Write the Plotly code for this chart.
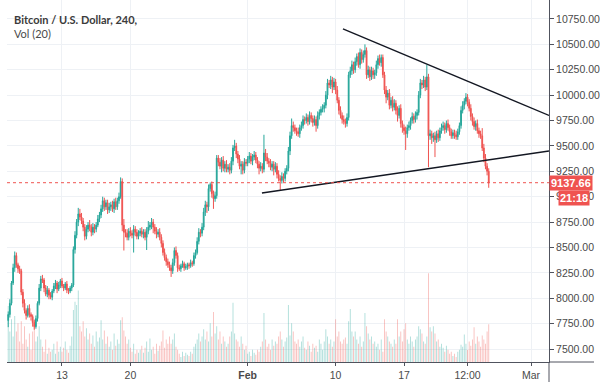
import pandas as pd
import plotly.graph_objects as go

# ---------------- data (4h candles, BTC/USD) ----------------
first_open = 7780
closes = [
    7840, 7950, 8150,                                   # Jan 7 (12:00-20:00)
    8300, 8420, 8330, 8290, 8270, 8060,                 # Jan 8
    7950, 7880, 7830, 7900, 7840, 7820,                 # Jan 9
    7760, 7720, 7800, 7950, 8100, 8190,                 # Jan 10
    8180, 8100, 8040, 8080, 8030, 8010,                 # Jan 11
    8070, 8120, 8150, 8090, 8130, 8170,                 # Jan 12
    8120, 8100, 8140, 8080, 8070, 8100,                 # Jan 13
    8130, 8480, 8620, 8750, 8830, 8800,                 # Jan 14
    8760, 8700, 8610, 8680, 8720, 8700,                 # Jan 15
    8650, 8700, 8680, 8720, 8780, 8820,                 # Jan 16
    8880, 8960, 8900, 8940, 8870, 8900,                 # Jan 17
    8920, 8880, 8950, 8900, 8960, 9000,                 # Jan 18
    9150, 8720, 8650, 8640, 8600, 8660,                 # Jan 19
    8640, 8620, 8680, 8650, 8610, 8640,                 # Jan 20
    8660, 8630, 8650, 8600, 8660, 8700,                 # Jan 21
    8720, 8750, 8700, 8660, 8630, 8650,                 # Jan 22
    8600, 8540, 8450, 8400, 8360, 8330,                 # Jan 23
    8300, 8270, 8350, 8470, 8420, 8300,                 # Jan 24
    8290, 8320, 8340, 8300, 8310, 8330,                 # Jan 25
    8320, 8350, 8340, 8420, 8450, 8560,                 # Jan 26
    8650, 8640, 8700, 8850, 8920, 8900,                 # Jan 27
    9080, 9120, 9030, 8980, 9010, 9380,                 # Jan 28
    9340, 9300, 9360, 9280, 9320, 9270,                 # Jan 29
    9290, 9260, 9350, 9480, 9500, 9420,                 # Jan 30
    9370, 9300, 9320, 9260, 9340, 9330,                 # Jan 31
    9370, 9400, 9350, 9390, 9410, 9360,                 # Feb 1
    9320, 9280, 9300, 9270, 9430, 9390,                 # Feb 2
    9350, 9330, 9290, 9320, 9270, 9300,                 # Feb 3
    9220, 9180, 9160, 9200, 9180, 9250,                 # Feb 4
    9280, 9450, 9600, 9700, 9680, 9650,                 # Feb 5
    9640, 9620, 9680, 9700, 9760, 9750,                 # Feb 6
    9780, 9740, 9800, 9770, 9730, 9760,                 # Feb 7
    9700, 9800, 9830, 9860, 9870, 9900,                 # Feb 8
    10000, 10120, 10100, 10150, 10080, 10130,           # Feb 9
    10050, 9950, 9850, 9800, 9760, 9740,                # Feb 10
    9720, 9780, 10200, 10240, 10300, 10250,             # Feb 11
    10330, 10380, 10300, 10420, 10350, 10400,           # Feb 12
    10440, 10200, 10250, 10180, 10240, 10200,           # Feb 13
    10220, 10300, 10360, 10320, 10370, 10200,           # Feb 14
    10050, 9980, 10020, 9900, 9950, 9880,               # Feb 15
    9920, 9850, 9800, 9870, 9720, 9680,                 # Feb 16
    9650, 9620, 9680, 9700, 9750, 9790,                 # Feb 17
    9760, 9800, 9830, 10000, 10120, 10100,              # Feb 18
    10150, 10080, 10180, 9600, 9620, 9580,              # Feb 19
    9600, 9560, 9620, 9580, 9650, 9680,                 # Feb 20
    9700, 9660, 9720, 9680, 9640, 9600,                 # Feb 21
    9630, 9610, 9590, 9640, 9700, 9850,                 # Feb 22
    9900, 9940, 9980, 9930, 9870, 9790,                 # Feb 23
    9740, 9690, 9720, 9650, 9620, 9600,                 # Feb 24
    9480, 9380, 9300, 9250, 9137.66,                    # Feb 25
]
upper_wicks = [
    30, 40, 20,
    40, 40, 30, 20, 30, 20,
    30, 40, 20, 30, 40, 20,
    20, 30, 30, 20, 40, 30,
    40, 20, 30, 40, 20, 30,
    20, 30, 30, 20, 30, 20,
    30, 20, 20, 30, 20, 20,
    20, 30, 40, 30, 60, 50,
    40, 30, 30, 40, 30, 50,
    30, 40, 30, 30, 40, 30,
    40, 40, 30, 30, 30, 40,
    30, 40, 30, 40, 30, 40,
    40, 30, 60, 30, 40, 30,
    40, 30, 40, 30, 30, 30,
    30, 40, 30, 30, 40, 60,
    30, 40, 30, 30, 40, 30,
    40, 30, 30, 40, 30, 30,
    30, 30, 40, 30, 40, 30,
    30, 20, 30, 20, 30, 20,
    20, 30, 20, 30, 30, 40,
    40, 30, 40, 40, 40, 30,
    40, 20, 30, 30, 40, 30,
    30, 40, 30, 40, 30, 40,
    30, 40, 40, 30, 60, 30,
    30, 40, 30, 30, 40, 30,
    30, 40, 30, 30, 40, 30,
    30, 30, 40, 30, 180, 40,
    40, 30, 40, 30, 30, 40,
    30, 40, 30, 40, 30, 30,
    30, 40, 40, 70, 40, 30,
    30, 40, 30, 40, 40, 30,
    40, 30, 40, 30, 30, 40,
    30, 40, 30, 30, 40, 30,
    40, 40, 30, 40, 30, 40,
    30, 40, 30, 40, 30, 40,
    30, 40, 30, 40, 40, 30,
    40, 30, 40, 40, 30, 40,
    60, 30, 40, 30, 40, 30,
    30, 40, 30, 40, 30, 30,
    30, 40, 30, 40, 30, 40,
    40, 30, 40, 30, 40, 30,
    30, 40, 30, 40, 30, 40,
    30, 40, 30, 40, 40, 30,
    40, 30, 120, 30, 40, 30,
    30, 40, 30, 40, 30, 40,
    40, 30, 30, 40, 30, 30,
    30, 30, 40, 30, 30, 40,
    40, 30, 40, 30, 30, 40,
    30, 40, 30, 40, 30, 30,
    75, 40, 40, 30, 30,
]
lower_wicks = [
    65, 30, 20,
    20, 40, 30, 40, 30, 30,
    40, 30, 40, 20, 30, 40,
    40, 30, 20, 30, 20, 30,
    30, 40, 20, 30, 40, 20,
    30, 20, 30, 40, 20, 30,
    20, 30, 20, 30, 30, 20,
    30, 20, 40, 30, 40, 30,
    30, 40, 40, 30, 30, 40,
    40, 30, 40, 30, 20, 30,
    30, 30, 40, 30, 40, 30,
    40, 30, 40, 30, 30, 30,
    20, 60, 180, 40, 30, 30,
    30, 30, 170, 40, 30, 30,
    30, 30, 40, 30, 125, 30,
    30, 40, 60, 30, 40, 30,
    30, 40, 30, 30, 40, 30,
    30, 60, 30, 30, 30, 40,
    20, 30, 20, 30, 20, 30,
    30, 20, 30, 20, 30, 20,
    30, 40, 30, 30, 40, 60,
    40, 30, 40, 100, 30, 30,
    40, 30, 60, 30, 40, 30,
    30, 40, 30, 40, 30, 40,
    40, 30, 80, 40, 30, 30,
    30, 40, 30, 40, 30, 30,
    40, 60, 30, 40, 30, 40,
    30, 40, 30, 40, 60, 30,
    40, 30, 95, 30, 40, 30,
    30, 30, 40, 30, 40, 30,
    40, 30, 40, 30, 30, 40,
    30, 40, 30, 40, 40, 30,
    60, 30, 40, 30, 30, 40,
    30, 40, 30, 40, 60, 30,
    40, 30, 40, 30, 40, 30,
    40, 30, 30, 30, 40, 40,
    30, 40, 30, 40, 40, 30,
    30, 40, 30, 40, 30, 40,
    40, 30, 40, 30, 40, 30,
    40, 60, 30, 40, 30, 40,
    30, 40, 60, 30, 40, 50,
    40, 160, 40, 30, 40, 30,
    40, 30, 40, 30, 30, 40,
    30, 40, 30, 310, 40, 60,
    40, 170, 30, 40, 30, 30,
    30, 40, 30, 30, 40, 30,
    30, 40, 30, 30, 30, 30,
    30, 40, 30, 40, 30, 40,
    40, 30, 40, 30, 40, 30,
    30, 40, 30, 40, 50,
]
volumes = [
    55, 30, 42,
    25, 45, 30, 38, 20, 40,
    18, 35, 22, 15, 28, 12,
    30, 40, 20, 25, 35, 22,
    15, 10, 22, 8, 14, 10,
    12, 18, 8, 20, 10, 15,
    10, 14, 20, 12, 9, 16,
    25, 51, 59, 56, 70, 35,
    30, 40, 25, 33, 22, 28,
    18, 26, 15, 30, 20, 24,
    41, 22, 31, 18, 25, 15,
    20, 12, 28, 16, 22, 18,
    41, 44, 31, 25, 18, 22,
    14, 10, 18, 8, 12, 9,
    12, 16, 9, 14, 20, 10,
    23, 12, 15, 8, 18, 11,
    16, 20, 31, 14, 22, 18,
    25, 18, 22, 28, 15, 12,
    8, 5, 10, 6, 9, 7,
    6, 10, 8, 15, 18, 22,
    28, 20, 25, 32, 22, 30,
    20, 38, 25, 49, 28, 35,
    22, 30, 18, 25, 20, 15,
    18, 25, 30, 58, 28, 22,
    20, 15, 25, 18, 12, 16,
    8, 10, 6, 12, 9, 7,
    12, 10, 15, 20, 48, 22,
    15, 18, 12, 22, 16, 20,
    18, 25, 30, 22, 15, 20,
    24, 56, 26, 38, 30, 20,
    18, 22, 15, 20, 25, 14,
    12, 20, 16, 10, 18, 14,
    16, 10, 22, 18, 12, 20,
    32, 25, 18, 22, 15, 20,
    42, 25, 30, 20, 18, 22,
    24, 18, 40, 52, 30, 25,
    30, 22, 18, 25, 15, 20,
    48, 35, 28, 22, 25, 18,
    20, 15, 18, 12, 22, 10,
    42, 30, 25, 20, 18, 15,
    22, 18, 42, 25, 30, 20,
    32, 38, 22, 18, 25, 20,
    15, 22, 25, 35, 32, 28,
    20, 18, 25, 87, 34, 30,
    35, 28, 20, 22, 15, 18,
    14, 10, 16, 12, 8, 10,
    6, 8, 5, 10, 12, 17,
    15, 27, 18, 12, 20, 16,
    22, 34, 18, 25, 20, 15,
    26, 22, 18, 30, 37,
]
last_price = 9137.66
countdown = "21:18"

x_tick_vals = ["2020-01-13", "2020-01-20", "2020-02-01", "2020-02-10",
               "2020-02-17", "2020-02-23 12:00", "2020-03-01"]
x_tick_text = ["13", "20", "<b>Feb</b>", "10", "17", "12:00", "Mar"]

upper_trend_x = ["2020-02-10 18:00", "2020-03-02 20:00"]
upper_trend_y = [10652, 9800]
lower_trend_x = ["2020-02-02 11:00", "2020-03-02 20:00"]
lower_trend_y = [9036, 9450]

# ---------------- derived ----------------
times = pd.date_range("2020-01-07 12:00", periods=len(closes), freq="4h")
opens = [first_open] + closes[:-1]
highs = [max(o, c) + u for o, c, u in zip(opens, closes, upper_wicks)]
lows = [min(o, c) - d for o, c, d in zip(opens, closes, lower_wicks)]

UP = "#26a69a"
DOWN = "#ef5350"
vol_colors = ["rgba(38,166,154,0.38)" if c >= o else "rgba(239,83,80,0.38)"
              for o, c in zip(opens, closes)]

W, H = 600, 382
ML, MR, MT, MB = 7, 51, 0, 20
PW, PH = W - ML - MR, H - MT - MB
FONT = "Liberation Sans"
TXT = "#4a4a4a"
GRID = "#eef1f5"
AXIS = "#50535e"

fig = go.Figure()
fig.add_trace(go.Bar(
    x=times, y=volumes, marker=dict(color=vol_colors, line=dict(width=0)),
    width=4 * 3600 * 1000 * 0.55, yaxis="y", hoverinfo="skip", showlegend=False))
fig.add_trace(go.Candlestick(
    x=times, open=opens, high=highs, low=lows, close=closes, yaxis="y2",
    increasing=dict(line=dict(color=UP, width=1), fillcolor=UP),
    decreasing=dict(line=dict(color=DOWN, width=1), fillcolor=DOWN),
    whiskerwidth=0, showlegend=False))
for tx, ty in ((upper_trend_x, upper_trend_y), (lower_trend_x, lower_trend_y)):
    fig.add_trace(go.Scatter(x=tx, y=ty, mode="lines", yaxis="y2",
                             line=dict(color="#131722", width=1.4),
                             hoverinfo="skip", showlegend=False))

fig.update_layout(
    width=W, height=H, margin=dict(l=ML, r=MR, t=MT, b=MB, autoexpand=False),
    paper_bgcolor="white", plot_bgcolor="white",
    font=dict(family=FONT, size=11, color=TXT),
    bargap=0.2,
    xaxis=dict(type="date", range=["2020-01-07 09:00", "2020-03-02 20:00"],
               rangeslider=dict(visible=False),
               tickvals=x_tick_vals, ticktext=x_tick_text, tickangle=0,
               showgrid=True, gridcolor=GRID, gridwidth=1,
               showline=True, linecolor=AXIS, linewidth=1,
               ticks="outside", ticklen=3, tickcolor=AXIS,
               tickfont=dict(family=FONT, size=10.5, color=TXT), zeroline=False),
    yaxis=dict(range=[0, 355], visible=False, showgrid=False, fixedrange=True),
    yaxis2=dict(overlaying="y", side="right", range=[7372, 10937],
                tick0=0, dtick=250, tickformat=".2f",
                showgrid=True, gridcolor=GRID, gridwidth=1,
                showline=True, linecolor=AXIS, linewidth=1,
                ticks="outside", ticklen=4, tickcolor=AXIS,
                tickfont=dict(family=FONT, size=10.5, color=TXT), zeroline=False),
)

# last price dotted line
fig.add_shape(type="line", xref="paper", x0=0, x1=1, yref="y2",
              y0=last_price, y1=last_price,
              line=dict(color=DOWN, width=1, dash="dot"))
# axis line extensions (TradingView style)
fig.add_shape(type="line", xref="paper", yref="paper", x0=1, x1=(W - 6 - ML) / PW,
              y0=0, y1=0, line=dict(color=AXIS, width=1))
fig.add_shape(type="line", xref="paper", yref="paper", x0=1, x1=1,
              y0=-(MB) / PH, y1=0, line=dict(color=AXIS, width=1))

# price label & countdown
fig.add_annotation(xref="paper", x=1, xanchor="left", yref="y2", y=last_price,
                   text=f"<b>{last_price:.2f}</b>", showarrow=False,
                   bgcolor=DOWN, font=dict(color="white", size=11, family=FONT),
                   borderpad=1, xshift=0)
fig.add_annotation(xref="paper", x=1, xanchor="left", yref="y2", y=last_price,
                   text=f"<b>{countdown}</b>", showarrow=False, yshift=-15,
                   bgcolor=DOWN, font=dict(color="white", size=11, family=FONT),
                   borderpad=1, xshift=9)

# header texts
fig.add_annotation(xref="paper", yref="paper", x=(12 - ML) / PW, y=1 - 19 / PH,
                   xanchor="left", yanchor="middle", showarrow=False,
                   text="<b>Bitcoin / U.S. Dollar, 240,</b>",
                   font=dict(family="Lato", size=11, color="#3b3b3b"))
fig.add_annotation(xref="paper", yref="paper", x=(12 - ML) / PW, y=1 - 33 / PH,
                   xanchor="left", yanchor="middle", showarrow=False,
                   text="Vol (20)", font=dict(family="Lato", size=11, color=TXT))

fig.write_html("out.html", config={"displayModeBar": False},
               post_script="document.body.style.margin='0';")
